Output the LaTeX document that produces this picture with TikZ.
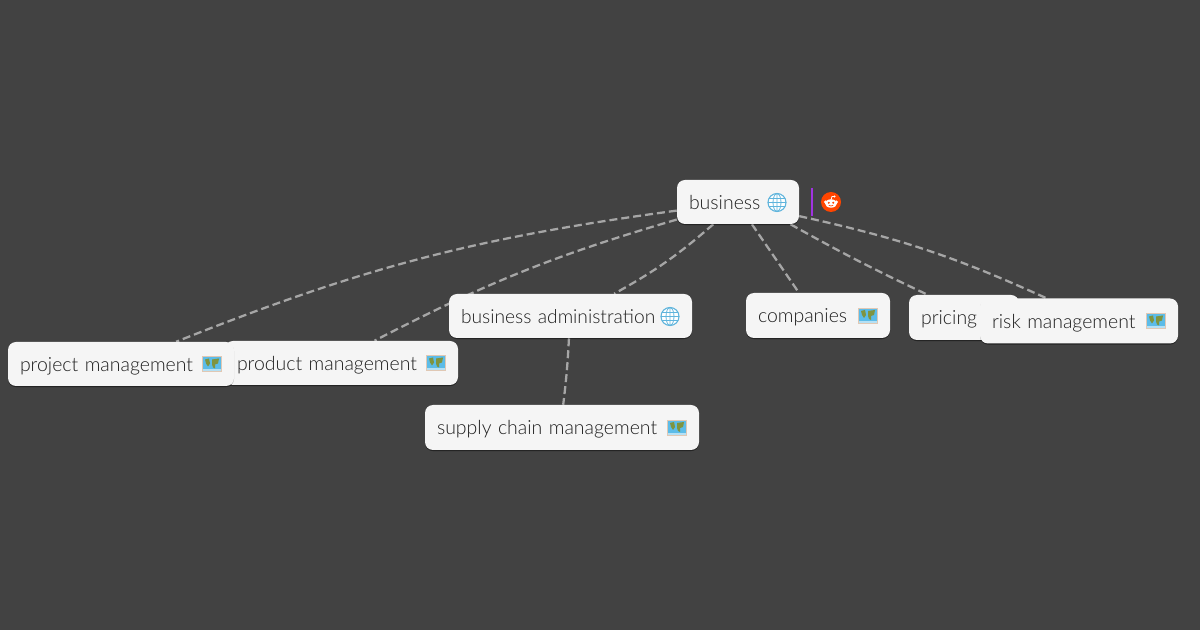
\documentclass[tikz,border=0pt]{standalone}
\usepackage{fontspec}
\setmainfont{Lato Light}[WordSpace=0.55]
\usetikzlibrary{shadows,calc}
\definecolor{bgc}{HTML}{424242}
\definecolor{boxc}{HTML}{F5F5F5}
\definecolor{txtc}{HTML}{1E1E1E}
\definecolor{linkc}{HTML}{A6A6A6}
\definecolor{redditc}{HTML}{FF4500}
\definecolor{barc}{HTML}{A033E0}
\definecolor{seac}{HTML}{5CBCE8}
\definecolor{landc}{HTML}{7F9440}
\definecolor{framec}{HTML}{E0C8B4}
\definecolor{globec}{HTML}{5FB4DC}
\tikzset{
  x=0.75pt,y=-0.75pt,
  mapbox/.style={rounded corners=6pt,fill=boxc,draw=none,inner xsep=9pt,inner ysep=0pt,
    align=left,font=\fontsize{14.6}{16}\selectfont,text=txtc,text height=12.3pt,text depth=1.7pt,
    general shadow={shadow xshift=0pt,shadow yshift=-0.8pt,fill=black,opacity=0.25}},
  wd/.style={minimum width=#1*0.75pt,text width=#1*0.75pt-18pt},
  hg/.style={minimum height=#1*0.75pt},
  linkline/.style={draw=linkc,line width=1.7pt,dash pattern=on 6pt off 3pt},
  pics/mapicon/.style={code={
    \fill[framec] (-10,-8) rectangle (10,8);
    \fill[seac] (-9,-7) rectangle (9,7);
    \fill[landc] (-7,-5) -- (-3,-6) -- (-2,-1) -- (-4,2) -- (-6,-1) -- cycle;
    \fill[landc] (0,-5) -- (7,-6) -- (6,-1) -- (3,0) -- (3,4) -- (1,3) -- (0,0) -- cycle;
    \fill[white,opacity=.55] (-9,4.8) rectangle (9,7);
  }},
  pics/globeicon/.style={code={
    \fill[white] (0,0) circle (9);
    \draw[globec,line width=0.85pt] (0,0) circle (9);
    \draw[globec,line width=0.6pt] (0,0) ellipse (4 and 9) (-9,0) -- (9,0) (0,-9) -- (0,9)
      (-8,-4) -- (8,-4) (-8,4) -- (8,4);
  }},
  pics/reddicon/.style={code={
    \fill[redditc] (0,0) circle (10);
    \fill[white] (0,1.5) ellipse (6 and 4.2);
    \fill[white] (-5.5,0) circle (1.6) (5.5,0) circle (1.6) (3.5,-5.5) circle (1.2);
    \draw[white,line width=0.6pt] (0,-2) -- (1,-5.5) -- (3.5,-5.5);
    \fill[redditc] (-2.2,0.8) circle (1.1) (2.2,0.8) circle (1.1);
    \draw[redditc,line width=0.5pt] (-2.2,3.2) .. controls (-1,4.3) and (1,4.3) .. (2.2,3.2);
  }},
}
\begin{document}
\begin{tikzpicture}
\useasboundingbox[fill=bgc] (0,0) rectangle (1200,630);
\path (738,202) node[mapbox,wd=122,hg=44,opacity=0] (biz) {}
  (121,364) node[mapbox,wd=226,hg=44,opacity=0] (proj) {}
  (341.5,363) node[mapbox,wd=233,hg=44,opacity=0] (prod) {}
  (570.5,316) node[mapbox,wd=243,hg=44,opacity=0] (admin) {}
  (818,315.5) node[mapbox,wd=144,hg=45,opacity=0] (comp) {}
  (964,317.5) node[mapbox,wd=110,hg=45,opacity=0] (pric) {}
  (1079,321) node[mapbox,wd=198,hg=45,opacity=0] (risk) {}
  (562,427.5) node[mapbox,wd=274,hg=45,opacity=0] (supp) {};
\draw[linkline] (biz.188.5) to[bend right=7] (proj.22.2);
\draw[linkline] (biz.196.7) to[bend right=5.5] (prod.34);
\draw[linkline] (biz.222.5) to[bend left=6] (admin.27.4);
\draw[linkline] (biz.302.5) to (comp.130.2);
\draw[linkline] (biz.337.1) to[bend right=2] (pric.148);
\draw[linkline] (biz.347.1) to[bend left=6] (risk.145.7);
\draw[linkline] (admin.266) to[bend left=2] (supp.87.5);
\node[mapbox,wd=122,hg=44] (bizb) at (biz) {business};
\pic at (777,202.5) {globeicon};
\node[mapbox,wd=233,hg=44] (prodb) at (prod) {product management};
\pic at (436,363.5) {mapicon};
\node[mapbox,wd=226,hg=44] (projb) at (proj) {project management};
\pic at (212,364.5) {mapicon};
\node[mapbox,wd=243,hg=44,font=\fontsize{14.4}{16}\selectfont] (adminb) at (admin) {business administration};
\pic at (670,316.5) {globeicon};
\node[mapbox,wd=144,hg=45] (compb) at (comp) {companies};
\pic at (868,316) {mapicon};
\node[mapbox,wd=110,hg=45] (pricb) at (pric) {pricing};
\node[mapbox,wd=198,hg=45] (riskb) at (risk) {risk management};
\pic at (1156,321.5) {mapicon};
\node[mapbox,wd=274,hg=45] (suppb) at (supp) {supply chain management};
\pic at (677,428) {mapicon};
\draw[barc,line width=2.2pt] (812,188) -- (812,216);
\pic at (831,202) {reddicon};
\end{tikzpicture}
\end{document}
